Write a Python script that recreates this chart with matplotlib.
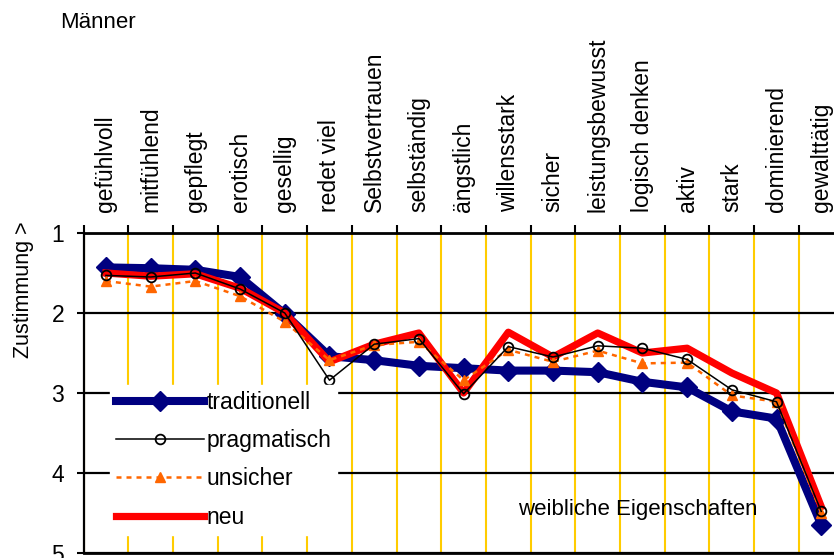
import numpy as np
import matplotlib.pyplot as plt

plt.rcParams['font.family'] = ['Liberation Sans', 'DejaVu Sans']

# Daten: Zustimmung je Eigenschaft (1 = hoch, 5 = niedrig)
eigenschaften = ['gefühlvoll', 'mitfühlend', 'gepflegt', 'erotisch', 'gesellig',
                 'redet viel', 'Selbstvertrauen', 'selbständig', 'ängstlich',
                 'willensstark', 'sicher', 'leistungsbewusst', 'logisch denken',
                 'aktiv', 'stark', 'dominierend', 'gewalttätig']
traditionell = [1.43, 1.44, 1.46, 1.55, 2.01, 2.54, 2.59, 2.66, 2.69, 2.72,
                2.72, 2.74, 2.86, 2.93, 3.23, 3.32, 4.65]
pragmatisch = [1.53, 1.55, 1.50, 1.70, 2.00, 2.84, 2.39, 2.32, 3.01, 2.42,
               2.55, 2.41, 2.44, 2.58, 2.96, 3.11, 4.48]
unsicher = [1.60, 1.67, 1.60, 1.79, 2.11, 2.59, 2.40, 2.36, 2.84, 2.46,
            2.61, 2.47, 2.63, 2.62, 3.03, 3.11, 4.50]
neu = [1.50, 1.54, 1.51, 1.69, 2.00, 2.61, 2.39, 2.25, 3.00, 2.24,
       2.55, 2.25, 2.50, 2.44, 2.75, 3.00, 4.42]

fig = plt.figure(figsize=(8.34, 5.58), dpi=100)
ax = fig.add_axes([83.6 / 834, 5 / 558, 760 / 834, 320 / 558])

x = np.arange(len(eigenschaften))

ax.plot(x, traditionell, color='#000080', lw=5.8, marker='D', ms=10,
        mec='#000080', label='traditionell', zorder=3)
ax.plot(x, neu, color='#FF0000', lw=5.2, label='neu', zorder=4)
ax.plot(x, unsicher, color='#FF6600', lw=1.8, ls=(0, (2, 2)), marker='^',
        ms=7, label='unsicher', zorder=5)
ax.plot(x, pragmatisch, color='black', lw=1.1, marker='o', ms=7,
        mfc='none', mew=1.3, label='pragmatisch', zorder=6)

ax.set_xlim(-0.5, len(eigenschaften) - 0.5)
ax.set_ylim(5, 1)

# Kategorien oben
ax.xaxis.tick_top()
ax.set_xticks(x)
ax.set_xticklabels(eigenschaften, rotation=90, fontsize=16.5)
ax.tick_params(axis='x', which='major', length=0, pad=15)
ax.set_xticks(np.arange(-0.5, len(eigenschaften), 1), minor=True)
ax.tick_params(axis='x', which='minor', length=6, width=1.5, color='black',
               top=True, bottom=False)
ax.grid(which='minor', axis='x', color='#FFCC00', lw=1.5, zorder=0)

ax.set_yticks([1, 2, 3, 4, 5])
ax.tick_params(axis='y', length=5, width=1.5, labelsize=16.5, pad=9)
ax.grid(which='major', axis='y', color='black', lw=1.6, zorder=1)
ax.set_axisbelow(True)

for s in ['top', 'bottom']:
    ax.spines[s].set_linewidth(2)
ax.spines['left'].set_linewidth(1.6)
ax.spines['right'].set_visible(False)

h, l = ax.get_legend_handles_labels()
order = [0, 3, 2, 1]
leg = fig.legend([h[i] for i in order], [l[i] for i in order],
                 loc='upper left', bbox_to_anchor=(110 / 834, 1 - 385 / 558),
                 fontsize=16.5, frameon=True, fancybox=False, edgecolor='white',
                 framealpha=1, handlelength=3.85, handletextpad=0.1,
                 labelspacing=0.67, borderpad=0.25, borderaxespad=0)
leg.set_zorder(10)

fig.text(518 / 834, 1 - 509 / 558, 'weibliche Eigenschaften', fontsize=16,
         va='center', ha='left')
fig.text(60 / 834, 1 - 22 / 558, 'Männer', fontsize=16, va='center', ha='left')
fig.text(24 / 834, 1 - 290 / 558, 'Zustimmung >', fontsize=15.5, rotation=90,
         va='center', ha='center')

fig.savefig('out.png', dpi=100)
